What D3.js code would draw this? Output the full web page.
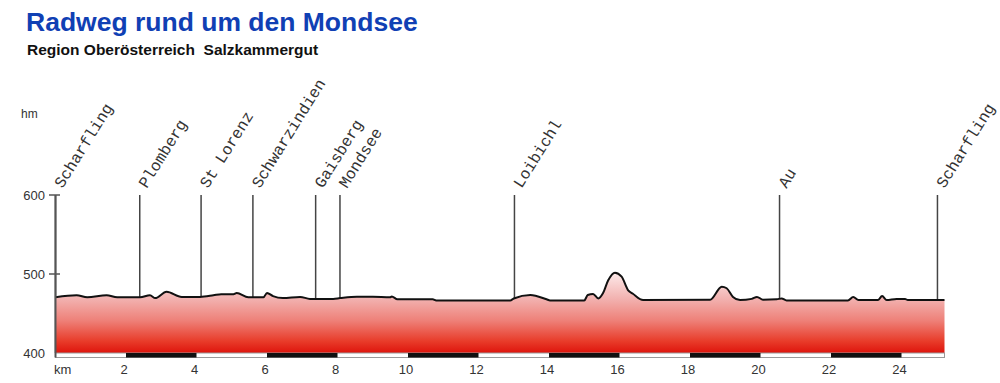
<!DOCTYPE html>
<html>
<head>
<meta charset="utf-8">
<script src="https://cdn.jsdelivr.net/npm/d3@7"></script>
<style>
  body { margin: 0; background: #fff; }
  svg { display: block; font-family: "Liberation Sans", Arial, sans-serif; }
</style>
</head>
<body>
<div id="chart"></div>
<script>
// profile points: distance (km) and height (m)
var kmPts = [0, 0.6, 0.9, 1.45, 1.75, 2.4, 2.68, 2.83, 3.15, 3.58, 4.1, 4.48, 4.7, 5.05, 5.14, 5.47, 5.9, 6.0, 6.17, 6.45, 6.94, 7.22, 7.88, 8.07, 8.55, 9.0, 9.49, 9.54, 9.7, 10.7, 10.8, 12.9, 13.0, 13.47, 13.93, 14.03, 15.0, 15.1, 15.25, 15.4, 15.53, 15.68, 15.87, 16.06, 16.24, 16.38, 16.67, 18.57, 18.9, 19.04, 19.22, 19.42, 19.75, 19.9, 20.07, 20.46, 20.6, 20.74, 22.48, 22.63, 22.78, 23.33, 23.45, 23.58, 23.86, 24.1, 24.18, 25.22];
var elevPts = [470.5, 473, 470.5, 473, 470.5, 470.5, 473, 469.5, 477.5, 471, 471, 473, 474.5, 474.5, 476, 470.5, 470.5, 476, 472, 469.5, 471, 468.5, 468.5, 469.5, 471.3, 471.3, 470.5, 471.5, 468, 468, 466.5, 466.5, 469, 473.4, 468, 466.5, 466.5, 473.4, 474.7, 469, 475.5, 492, 501.6, 496.6, 479.7, 475, 467, 467.5, 484, 482, 471, 467, 468.5, 471, 467.5, 468, 469, 466.5, 466.5, 471, 467, 467, 472, 467, 468.5, 468.5, 467, 467];

// places along the route
var placeNames = ["Scharfling", "Plomberg", "St Lorenz", "Schwarzindien", "Gaisberg", "Mondsee", "Loibichl", "Au", "Scharfling"];
var placeKm = [0, 2.39, 4.13, 5.6, 7.38, 8.07, 13.02, 20.54, 25.02];

var kmTicks = [2, 4, 6, 8, 10, 12, 14, 16, 18, 20, 22, 24];
var hmTicks = [400, 500, 600];
var routeLength = 25.22;

var width = 1000, height = 383;

var svg = d3.select("#chart")
  .append("svg")
  .attr("width", width)
  .attr("height", height);

var x = d3.scaleLinear().domain([0, routeLength]).range([55.5, 55.5 + routeLength * 35.25]);
var y = d3.scaleLinear().domain([400, 600]).range([353, 195]);

var data = kmPts.map(function(k, i) { return {km: k, h: elevPts[i]}; });

// gradient for the fill
var grad = svg.append("defs").append("linearGradient")
  .attr("id", "fillGrad")
  .attr("gradientUnits", "userSpaceOnUse")
  .attr("x1", 0).attr("x2", 0)
  .attr("y1", 268).attr("y2", 353);
grad.append("stop").attr("offset", "0%").attr("stop-color", "#fff4f4");
grad.append("stop").attr("offset", "36%").attr("stop-color", "#f2b2b0");
grad.append("stop").attr("offset", "62%").attr("stop-color", "#ee8078");
grad.append("stop").attr("offset", "86%").attr("stop-color", "#e83c2a");
grad.append("stop").attr("offset", "100%").attr("stop-color", "#de140c");

// title
svg.append("text")
  .attr("x", 26).attr("y", 31)
  .style("font-size", "26.5px")
  .style("font-weight", "bold")
  .style("fill", "#1040b4")
  .text("Radweg rund um den Mondsee");

// subtitle
svg.append("text")
  .attr("x", 27).attr("y", 55)
  .style("font-size", "15.5px")
  .style("font-weight", "bold")
  .style("fill", "#111")
  .style("white-space", "pre")
  .text("Region Oberösterreich  Salzkammergut");

// unit labels
svg.append("text")
  .attr("x", 21).attr("y", 118)
  .style("font-size", "12px")
  .style("fill", "#333")
  .text("hm");

svg.append("text")
  .attr("x", 54).attr("y", 374)
  .style("font-size", "13px")
  .style("fill", "#333")
  .text("km");

// place markers (drawn under the fill)
svg.selectAll(".marker")
  .data(placeKm)
  .enter()
  .append("line")
    .attr("x1", function(d) { return x(d); })
    .attr("x2", function(d) { return x(d); })
    .attr("y1", y(600))
    .attr("y2", y(400))
    .style("stroke", "#444")
    .style("stroke-width", 1.5);

svg.selectAll(".place")
  .data(placeNames)
  .enter()
  .append("text")
    .attr("transform", function(d, i) {
      return "translate(" + (x(placeKm[i]) + 7) + ",189) rotate(-58)";
    })
    .style("font-family", "'Liberation Mono', 'Courier New', monospace")
    .style("font-size", "16px")
    .style("fill", "#333")
    .text(function(d) { return d; });

// area + profile line
var area = d3.area()
  .x(function(d) { return x(d.km); })
  .y0(y(400))
  .y1(function(d) { return y(d.h); })
  .curve(d3.curveMonotoneX);

var line = d3.line()
  .x(function(d) { return x(d.km); })
  .y(function(d) { return y(d.h); })
  .curve(d3.curveMonotoneX);

svg.append("path")
  .datum(data)
  .attr("d", area)
  .style("fill", "url(#fillGrad)");

svg.append("path")
  .datum(data)
  .attr("d", line)
  .style("fill", "none")
  .style("stroke", "#111")
  .style("stroke-width", 2);

// km strip under the chart
svg.append("rect")
  .attr("x", x(0)).attr("y", 353)
  .attr("width", x(routeLength) - x(0)).attr("height", 4.5)
  .style("fill", "#fff")
  .style("stroke", "#999")
  .style("stroke-width", 1);

svg.selectAll(".kmbar")
  .data(kmTicks.filter(function(d, i) { return i % 2 == 0; }))
  .enter()
  .append("rect")
    .attr("x", function(d) { return x(d); })
    .attr("y", 353)
    .attr("width", function(d) { return x(d + 2) - x(d); })
    .attr("height", 4.5)
    .style("fill", "#111");

// left axis
svg.append("line")
  .attr("x1", x(0)).attr("x2", x(0))
  .attr("y1", y(600)).attr("y2", 357.5)
  .style("stroke", "#555")
  .style("stroke-width", 2);

svg.selectAll(".ytick")
  .data(hmTicks.slice(1))
  .enter()
  .append("line")
    .attr("x1", 49).attr("x2", 60)
    .attr("y1", function(d) { return y(d); })
    .attr("y2", function(d) { return y(d); })
    .style("stroke", "#555")
    .style("stroke-width", 1.5);

svg.selectAll(".ylab")
  .data(hmTicks)
  .enter()
  .append("text")
    .attr("x", 45)
    .attr("y", function(d) { return y(d) + 5; })
    .attr("text-anchor", "end")
    .style("font-size", "13px")
    .style("fill", "#333")
    .text(function(d) { return d; });

svg.selectAll(".xlab")
  .data(kmTicks)
  .enter()
  .append("text")
    .attr("x", function(d) { return x(d) - 2; })
    .attr("y", 374)
    .attr("text-anchor", "middle")
    .style("font-size", "13px")
    .style("fill", "#333")
    .text(function(d) { return d; });
</script>
</body>
</html>
